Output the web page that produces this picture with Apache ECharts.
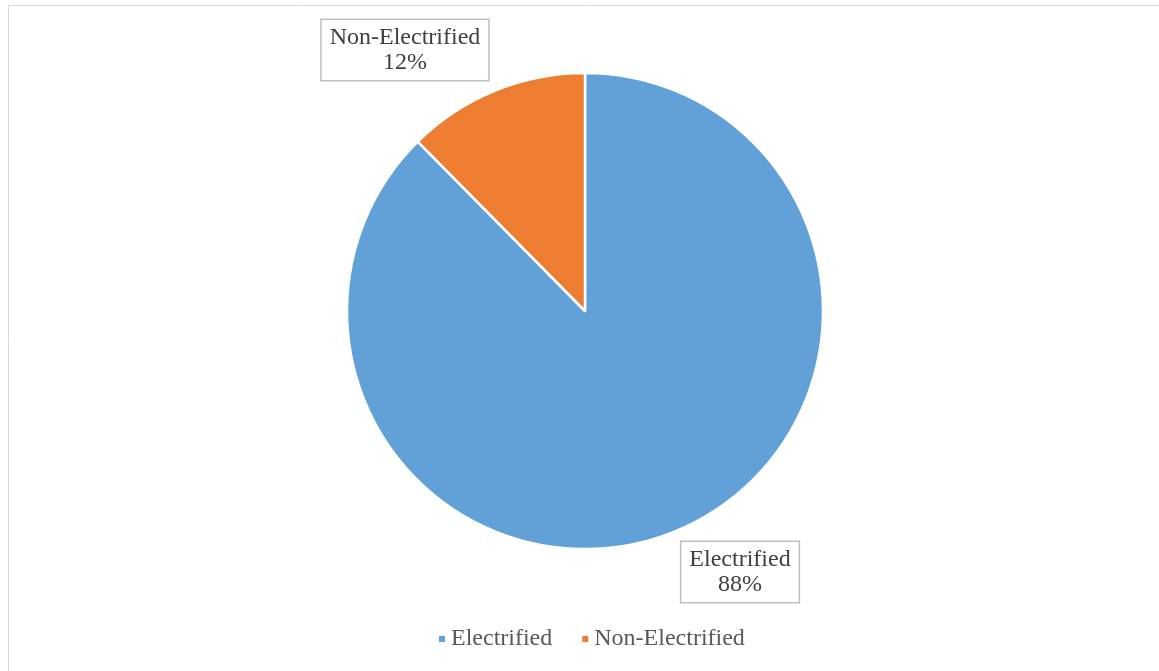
<!DOCTYPE html>
<html>
<head>
<meta charset="utf-8">
<script src="https://cdn.jsdelivr.net/npm/echarts@6/dist/echarts.min.js"></script>
<style>
html,body{margin:0;padding:0;background:#fff;}
#chart{width:1159px;height:671px;}
</style>
</head>
<body>
<div id="chart"></div>
<script>
const categories = ["Electrified", "Non-Electrified"];
const values = [87.6, 12.4];
const colors = ["#62A0D8", "#ED7D31"];

const chart = echarts.init(document.getElementById('chart'));
const labelPos = { "Electrified": [740, 572], "Non-Electrified": [405, 50] };

chart.setOption({
  backgroundColor: '#ffffff',
  animation: false,
  graphic: [{
    type: 'rect',
    shape: { x: 8.5, y: 5.5, width: 1200, height: 700 },
    style: { fill: 'none', stroke: '#d9d9d9', lineWidth: 1 },
    silent: true, z: -1
  }],
  legend: {
    bottom: 15,
    left: 432,
    itemWidth: 8,
    itemHeight: 8,
    itemGap: 28,
    icon: 'rect',
    textStyle: { fontFamily: 'Liberation Serif', fontSize: 24, color: '#595959' },
    data: categories
  },
  series: [{
    type: 'pie',
    center: [585, 311],
    radius: 238,
    startAngle: 90,
    clockwise: true,
    itemStyle: { borderColor: '#ffffff', borderWidth: 2.5 },
    label: {
      show: true,
      position: 'outside',
      formatter: p => p.name + '\n' + Math.round(p.percent) + '%',
      fontFamily: 'Liberation Serif',
      fontSize: 24,
      lineHeight: 25,
      color: '#404040',
      backgroundColor: '#ffffff',
      borderColor: '#bfbfbf',
      borderWidth: 1.5,
      padding: [5, 8, 5, 8],
      align: 'center'
    },
    labelLine: { show: false },
    labelLayout: params => {
      const name = categories[params.dataIndex];
      const p = labelPos[name];
      return { x: p[0], y: p[1], align: 'center', verticalAlign: 'middle' };
    },
    emphasis: { disabled: true },
    data: categories.map((c, i) => ({ name: c, value: values[i], itemStyle: { color: colors[i] } }))
  }]
});
</script>
</body>
</html>
